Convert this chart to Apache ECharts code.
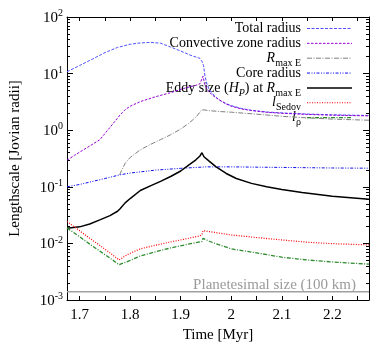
<!DOCTYPE html>
<html><head><meta charset="utf-8">
<script src="https://cdn.jsdelivr.net/npm/echarts@6/dist/echarts.min.js"></script>
<style>html,body{margin:0;padding:0;background:#fff}#c{width:374px;height:348px}</style>
</head><body><div id="c"></div>
<script>
// ---------- data ----------
const xMin = 1.675, xMax = 2.2725;
const xLabelValues = [1.7, 1.8, 1.9, 2.0, 2.1, 2.2];
const xTickValues = [1.7, 1.75, 1.8, 1.85, 1.9, 1.95, 2.0, 2.05, 2.1, 2.15, 2.2, 2.25];
const yExponents = [-3, -2, -1, 0, 1, 2];

const totalT = [1.675,1.70,1.725,1.75,1.775,1.80,1.82,1.84,1.86,1.88,1.90,1.92,1.938,1.942,1.945,1.948,1.952,1.956,1.962,1.97,1.98,1.99,2.0,2.02,2.04,2.07,2.1,2.15,2.2,2.2725];
const totalR = [10.8,13.9,18,23.5,29,33,34.8,35.6,34.5,29.5,25,21,18.6,16.5,14,9,6.5,5.3,4.5,3.8,3.25,2.95,2.72,2.42,2.25,2.1,2.02,1.93,1.87,1.82];

const convT = [1.675,1.69,1.70,1.72,1.74,1.76,1.78,1.79,1.80,1.82,1.85,1.88,1.91,1.93,1.938,1.944,1.948,1.955,1.962,1.975,1.99,2.0,2.02,2.04,2.07,2.1,2.15,2.2,2.2725];
const convR = [0.295,0.36,0.41,0.525,0.68,1.12,1.86,2.3,2.65,3.2,3.9,4.6,5.6,6.2,6.6,9.0,6.2,4.9,4.2,3.5,2.9,2.65,2.38,2.22,2.07,1.99,1.9,1.84,1.79];

const rmaxT = [1.779,1.785,1.79,1.80,1.82,1.84,1.86,1.88,1.90,1.915,1.93,1.942,1.96,1.98,2.0,2.05,2.1,2.15,2.2,2.2725];
const rmaxR = [0.163,0.21,0.26,0.33,0.45,0.56,0.68,0.83,1.05,1.3,1.7,2.3,2.2,2.13,2.08,1.92,1.76,1.65,1.57,1.5];

const coreT = [1.675,1.70,1.725,1.75,1.78,1.80,1.85,1.90,1.95,2.0,2.1,2.2,2.2725];
const coreR = [0.1,0.11,0.124,0.14,0.163,0.175,0.197,0.212,0.225,0.225,0.22,0.215,0.213];

const eddyT = [1.675,1.70,1.72,1.74,1.76,1.775,1.78,1.79,1.80,1.82,1.84,1.86,1.88,1.90,1.915,1.93,1.938,1.942,1.946,1.955,1.97,1.99,2.01,2.04,2.07,2.1,2.14,2.2,2.2725];
const eddyR = [0.0185,0.0196,0.022,0.026,0.031,0.037,0.041,0.052,0.062,0.086,0.104,0.125,0.152,0.19,0.24,0.3,0.35,0.4,0.34,0.29,0.225,0.172,0.14,0.115,0.1,0.09,0.079,0.068,0.06];

const sedovT = [1.675,1.70,1.72,1.74,1.76,1.778,1.79,1.80,1.82,1.85,1.88,1.91,1.938,1.942,1.944,1.96,1.98,2.0,2.05,2.1,2.15,2.2,2.2725];
const sedovR = [0.0245,0.0167,0.0123,0.0092,0.0068,0.0051,0.006,0.0067,0.008,0.0093,0.0106,0.012,0.0136,0.0142,0.0168,0.016,0.015,0.0141,0.0127,0.0115,0.0105,0.0099,0.0094];

const rhoT = [1.675,1.70,1.72,1.74,1.76,1.778,1.80,1.82,1.85,1.88,1.91,1.938,1.942,1.944,1.96,1.98,2.0,2.05,2.1,2.15,2.2,2.2725];
const rhoR = [0.0188,0.0131,0.0097,0.0073,0.0055,0.0042,0.005,0.006,0.0071,0.0083,0.0095,0.0106,0.0108,0.0123,0.0106,0.0092,0.008,0.0068,0.0057,0.0051,0.0047,0.0043];

const planetesimalSize = 0.0014;
const planetesimalLabel = 'Planetesimal size (100 km)';
const xName = 'Time [Myr]';
const yName = 'Lengthscale [Jovian radii]';

// ---------- styling ----------
const FONT = '"Liberation Serif","DejaVu Serif",serif';
const zip = (a, b) => a.map((t, i) => [t, b[i]]);

const seriesDefs = [
  {name:'Total radius', t: totalT, v: totalR, color:'#5050ff', width:1, dash:[3,1.5],
   label:'{n|Total radius}'},
  {name:'Convective zone radius', t: convT, v: convR, color:'#9400d3', width:1, dash:[2.5,1.5],
   label:'{n|Convective zone radius}'},
  {name:'R max E', t: rmaxT, v: rmaxR, color:'#808080', width:1, dash:[5,1.5,1,1.5],
   label:'{i|R}{s|max E}'},
  {name:'Core radius', t: coreT, v: coreR, color:'#1010f0', width:1, dash:[3,1.5,1,1.5,1,1.5],
   label:'{n|Core radius}'},
  {name:'Eddy size', t: eddyT, v: eddyR, color:'#000000', width:1.5, dash:'solid',
   label:'{n|Eddy size (}{i|H}{si|P}{n|) at }{i|R}{s|max E}'},
  {name:'l Sedov', t: sedovT, v: sedovR, color:'#ff0000', width:1.2, dash:[1,1.5],
   label:'{i|l}{s|Sedov}'},
  {name:'l rho', t: rhoT, v: rhoR, color:'#2e8b2e', width:1.3, dash:[4,1.5,1,1.5],
   label:'{i|l}{s|ρ}'}
];

const minorLog = [];
for (let e = -3; e < 2; e++) for (let k = 2; k <= 9; k++) minorLog.push(e + Math.log10(k));
const majorLog = yExponents.slice();

const legendRich = {
  n: {fontFamily: FONT, fontSize: 14, fill: '#000', verticalAlign: 'top'},
  i: {fontFamily: FONT, fontSize: 14, fontStyle: 'italic', fill: '#000', verticalAlign: 'top'},
  s: {fontFamily: FONT, fontSize: 10, fill: '#000', padding: [7,0,0,0], verticalAlign: 'top'},
  si: {fontFamily: FONT, fontSize: 10, fontStyle: 'italic', fill: '#000', padding: [7,0,0,0], verticalAlign: 'top'}
};

const graphics = [];
seriesDefs.forEach((d, i) => {
  const y = 28.5 + 14.85 * i;
  graphics.push({type:'text', x: 301, y: y - 7, silent: true,
    style:{text: d.label, rich: legendRich, align:'right', verticalAlign:'top',
           fontFamily: FONT, fontSize: 14, fill:'#000'}});
  graphics.push({type:'line', silent: true, shape:{x1: 307, y1: y, x2: 352, y2: y},
    style:{stroke: d.color, lineWidth: d.width, lineDash: d.dash === 'solid' ? null : d.dash}});
});
graphics.push({type:'text', x: 356, y: 285, silent: true,
  style:{text: planetesimalLabel, align:'right', verticalAlign:'middle',
         fontFamily: FONT, fontSize: 15, fill:'#9a9a9a'}});

const series = seriesDefs.map(d => ({
  name: d.name, type:'line', xAxisIndex:0, yAxisIndex:0,
  data: zip(d.t, d.v), showSymbol:false, symbol:'none', smooth:false,
  lineStyle:{color:d.color, width:d.width, type:d.dash}, silent:true, z: 3
}));
series.push({name:'Planetesimal size', type:'line', xAxisIndex:0, yAxisIndex:0,
  data: [[xMin, planetesimalSize],[xMax, planetesimalSize]], symbol:'none',
  lineStyle:{color:'#a0a0a0', width:1.5}, silent:true, z:2});

const axisLineStyle = {show:true, onZero:false, lineStyle:{color:'#000', width:1}};
const xAxisCommon = {type:'value', min:xMin, max:xMax, splitLine:{show:false},
  axisLine: axisLineStyle,
  axisTick:{show:true, inside:true, length:4, customValues:xTickValues, lineStyle:{color:'#000'}}};
const logYCommon = {type:'log', logBase:10, min:0.001, max:100, splitLine:{show:false},
  axisLine: axisLineStyle, axisTick:{show:false}, axisLabel:{show:false}, minorTick:{show:false}};
const majYCommon = {type:'value', min:-3, max:2, interval:1, splitLine:{show:false},
  axisLine:{show:false, onZero:false},
  axisTick:{show:true, inside:true, length:6, customValues: majorLog, lineStyle:{color:'#000'}}};
const minYCommon = {type:'value', min:-3, max:2, splitLine:{show:false},
  axisLine:{show:false, onZero:false}, axisLabel:{show:false},
  axisTick:{show:true, inside:true, length:3, customValues: minorLog, lineStyle:{color:'#000'}}};

const option = {
  animation:false,
  backgroundColor:'#fff',
  grid:{left:64, right:5, top:17, bottom:48, containLabel:false},
  xAxis:[
    Object.assign({}, xAxisCommon, {position:'bottom', name:xName, nameLocation:'middle', nameGap:28,
      nameTextStyle:{fontFamily:FONT, fontSize:15, color:'#000', fontWeight:'normal'},
      axisLabel:{show:true, customValues:xLabelValues, fontFamily:FONT, fontSize:15, color:'#000', margin:8,
        formatter: v => String(+(+v).toFixed(2))}}),
    Object.assign({}, xAxisCommon, {position:'top', axisLabel:{show:false}})
  ],
  yAxis:[
    Object.assign({}, logYCommon, {position:'left', name:yName, nameLocation:'middle', nameGap:44,
      nameTextStyle:{fontFamily:FONT, fontSize:15, color:'#000', fontWeight:'normal'}}),
    Object.assign({}, logYCommon, {position:'right'}),
    Object.assign({}, majYCommon, {position:'left',
      axisLabel:{show:true, customValues: yExponents, margin:4, color:'#000', fontFamily:FONT, fontSize:15,
        formatter: v => '{b|10}{e|' + Math.round(v) + '}',
        rich:{b:{fontFamily:FONT, fontSize:15, color:'#000', verticalAlign:'bottom'},
              e:{fontFamily:FONT, fontSize:10, color:'#000', padding:[0,0,7,0], verticalAlign:'bottom'}}}}),
    Object.assign({}, majYCommon, {position:'right', axisLabel:{show:false}}),
    Object.assign({}, minYCommon, {position:'left'}),
    Object.assign({}, minYCommon, {position:'right'})
  ],
  series: series,
  graphic: graphics
};
const chart = echarts.init(document.getElementById('c'), null, {renderer:'canvas'});
chart.setOption(option);
</script>
</body></html>
